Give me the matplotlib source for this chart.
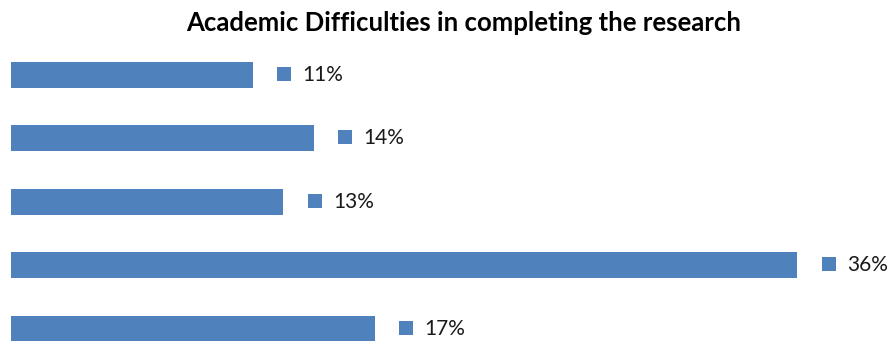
import matplotlib.pyplot as plt
from matplotlib.transforms import offset_copy

# Data (percent of respondents)
categories = ['Item 1', 'Item 2', 'Item 3', 'Item 4', 'Item 5']
values = [11.1, 13.9, 12.5, 36.1, 16.7]
labels = ['11%', '14%', '13%', '36%', '17%']

bar_color = '#4F81BD'
font = ['Lato', 'DejaVu Sans']

fig = plt.figure(figsize=(8.96, 3.41), dpi=100)
ax = fig.add_axes([11 / 896, 0, 871 / 896, 298 / 341])

pos = list(range(len(categories)))
ax.barh(pos, values, height=0.41, color=bar_color)
ax.set_xlim(0, 40)
ax.set_ylim(4.19, -0.5)

# small legend-like square plus percent label after each bar
sq_tr = offset_copy(ax.transData, fig=fig, x=31.5, y=1, units='dots')
txt_tr = offset_copy(ax.transData, fig=fig, x=50, y=0, units='dots')
for p, v, lab in zip(pos, values, labels):
    ax.plot(v, p, marker='s', markersize=9.4, color=bar_color,
            markeredgewidth=0, transform=sq_tr, clip_on=False)
    ax.text(v, p, lab, transform=txt_tr, va='center', ha='left',
            fontsize=15, family=font, color='#1a1a1a')

ax.axis('off')

fig.text(0.518, 0.932, 'Academic Difficulties in completing the research',
         ha='center', va='center', fontsize=18.5, fontweight='bold',
         family=font, color='black')

fig.savefig('out.png', dpi=100)
